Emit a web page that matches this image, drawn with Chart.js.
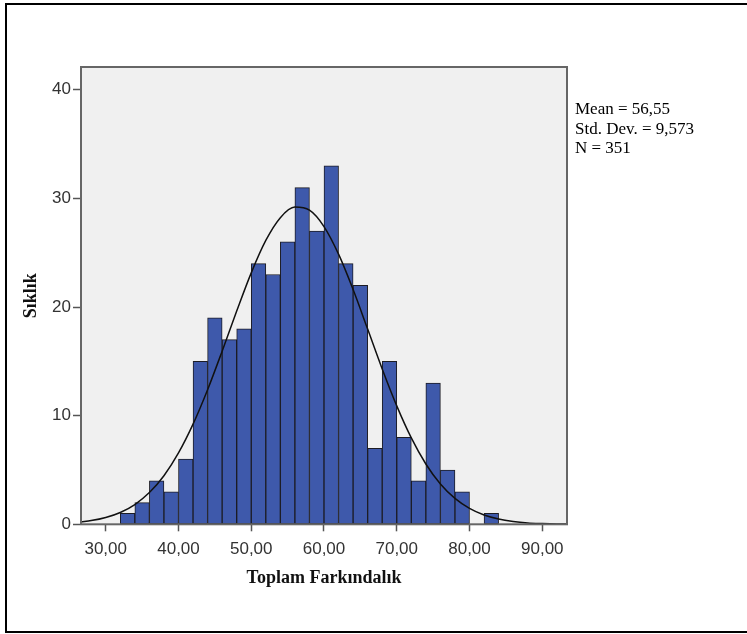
<!DOCTYPE html>
<html>
<head>
<meta charset="utf-8">
<title>Toplam Farkındalık</title>
<script src="https://cdn.jsdelivr.net/npm/chart.js@4.4.1/dist/chart.umd.min.js"></script>
<style>
  html, body { margin: 0; padding: 0; background: #fff; }
  #wrap { width: 747px; height: 634px; position: relative; }
</style>
</head>
<body>
<div id="wrap"><canvas id="histChart" width="747" height="634"></canvas></div>
<script>
// Histogram data (bin width 2)
const binCenters = [33, 35, 37, 39, 41, 43, 45, 47, 49, 51, 53, 55, 57, 59, 61, 63, 65, 67, 69, 71, 73, 75, 77, 79, 81, 83];
const frequencies = [1, 2, 4, 3, 6, 15, 19, 17, 18, 24, 23, 26, 31, 27, 33, 24, 22, 7, 15, 8, 4, 13, 5, 3, 0, 1];

// Normal curve
const curveX = [26.6, 28, 30, 32, 34, 36, 38, 40, 42, 44, 46, 48, 50, 52, 54, 56, 58, 60, 62, 64, 66, 68, 70, 72, 74, 76, 78, 80, 82, 84, 86, 88, 90, 92, 93.4];
const curveY = [0.22, 0.34, 0.63, 1.09, 1.82, 2.92, 4.47, 6.57, 9.22, 12.39, 15.94, 19.63, 23.15, 26.13, 28.23, 29.2, 28.92, 27.41, 24.87, 21.61, 17.97, 14.3, 10.9, 7.95, 5.55, 3.71, 2.38, 1.46, 0.85, 0.48, 0.26, 0.13, 0.07, 0.03, 0.02];

const xTicks = [30, 40, 50, 60, 70, 80, 90];
const yTicks = [0, 10, 20, 30, 40];

const statLines = ['Mean = 56,55', 'Std. Dev. = 9,573', 'N = 351'];
const xTitle = 'Toplam Farkındalık';
const yTitle = 'Sıklık';

const sansFont = 'Liberation Sans, Arial, sans-serif';
const serifFont = 'Liberation Serif, Times New Roman, serif';

// plot background, frame, stats text and outer border
const decorations = {
  id: 'decorations',
  beforeDatasetsDraw(chart) {
    const { ctx, chartArea: a } = chart;
    ctx.save();
    ctx.fillStyle = '#f0f0f0';
    ctx.fillRect(a.left, a.top, a.right - a.left, a.bottom - a.top);
    ctx.restore();
  },
  afterDatasetsDraw(chart) {
    const { ctx, chartArea: a } = chart;
    ctx.save();
    ctx.strokeStyle = '#666';
    ctx.lineWidth = 2;
    ctx.strokeRect(a.left, a.top, a.right - a.left, a.bottom - a.top);
    ctx.restore();
  },
  afterDraw(chart) {
    const { ctx, chartArea: a } = chart;
    ctx.save();
    ctx.fillStyle = '#000';
    ctx.font = '17px ' + serifFont;
    ctx.textBaseline = 'alphabetic';
    statLines.forEach((t, i) => ctx.fillText(t, a.right + 8, 114 + i * 19.5));
    ctx.strokeStyle = '#000';
    ctx.lineWidth = 2;
    ctx.strokeRect(6, 4, 760, 628);
    ctx.restore();
  }
};

const ctx = document.getElementById('histChart').getContext('2d');
new Chart(ctx, {
  type: 'bar',
  data: {
    datasets: [
      {
        type: 'line',
        data: curveX.map((x, i) => ({ x: x, y: curveY[i] })),
        borderColor: '#111',
        borderWidth: 1.5,
        pointRadius: 0,
        fill: false,
        cubicInterpolationMode: 'monotone',
        order: 0
      },
      {
        type: 'bar',
        data: binCenters.map((x, i) => ({ x: x, y: frequencies[i] })),
        backgroundColor: '#3e59ab',
        borderColor: '#1c1c24',
        borderWidth: 1,
        borderSkipped: false,
        barPercentage: 1,
        categoryPercentage: 1,
        order: 1
      }
    ]
  },
  options: {
    responsive: false,
    animation: false,
    layout: { padding: { left: 0, top: 67, right: 180, bottom: 0 } },
    plugins: {
      legend: { display: false },
      tooltip: { enabled: false }
    },
    scales: {
      x: {
        type: 'linear',
        min: 26.6,
        max: 93.4,
        offset: false,
        afterBuildTicks: s => { s.ticks = xTicks.map(v => ({ value: v })); },
        afterFit: s => { s.height = 109.7; },
        grid: { offset: false, drawOnChartArea: false, drawTicks: true, tickLength: 7, tickWidth: 1.5, tickColor: '#555' },
        border: { color: '#666', width: 2 },
        ticks: {
          color: '#333',
          font: { family: sansFont, size: 17 },
          padding: 8,
          maxRotation: 0,
          callback: v => v.toFixed(2).replace('.', ',')
        },
        title: {
          display: true,
          text: xTitle,
          color: '#111',
          font: { family: serifFont, size: 18, weight: 'bold' },
          padding: { top: 0, bottom: 45 }
        }
      },
      y: {
        min: 0,
        max: 42.1,
        afterBuildTicks: s => { s.ticks = yTicks.map(v => ({ value: v })); },
        afterFit: s => { s.width = 81; },
        grid: { drawOnChartArea: false, drawTicks: true, tickLength: 8, tickWidth: 1.5, tickColor: '#555' },
        border: { color: '#666', width: 2 },
        ticks: {
          color: '#333',
          font: { family: sansFont, size: 17 },
          padding: 2
        },
        title: {
          display: true,
          text: yTitle,
          color: '#111',
          font: { family: serifFont, size: 18, weight: 'bold' },
          padding: { top: 21, bottom: 0 }
        }
      }
    }
  },
  plugins: [decorations]
});
</script>
</body>
</html>
